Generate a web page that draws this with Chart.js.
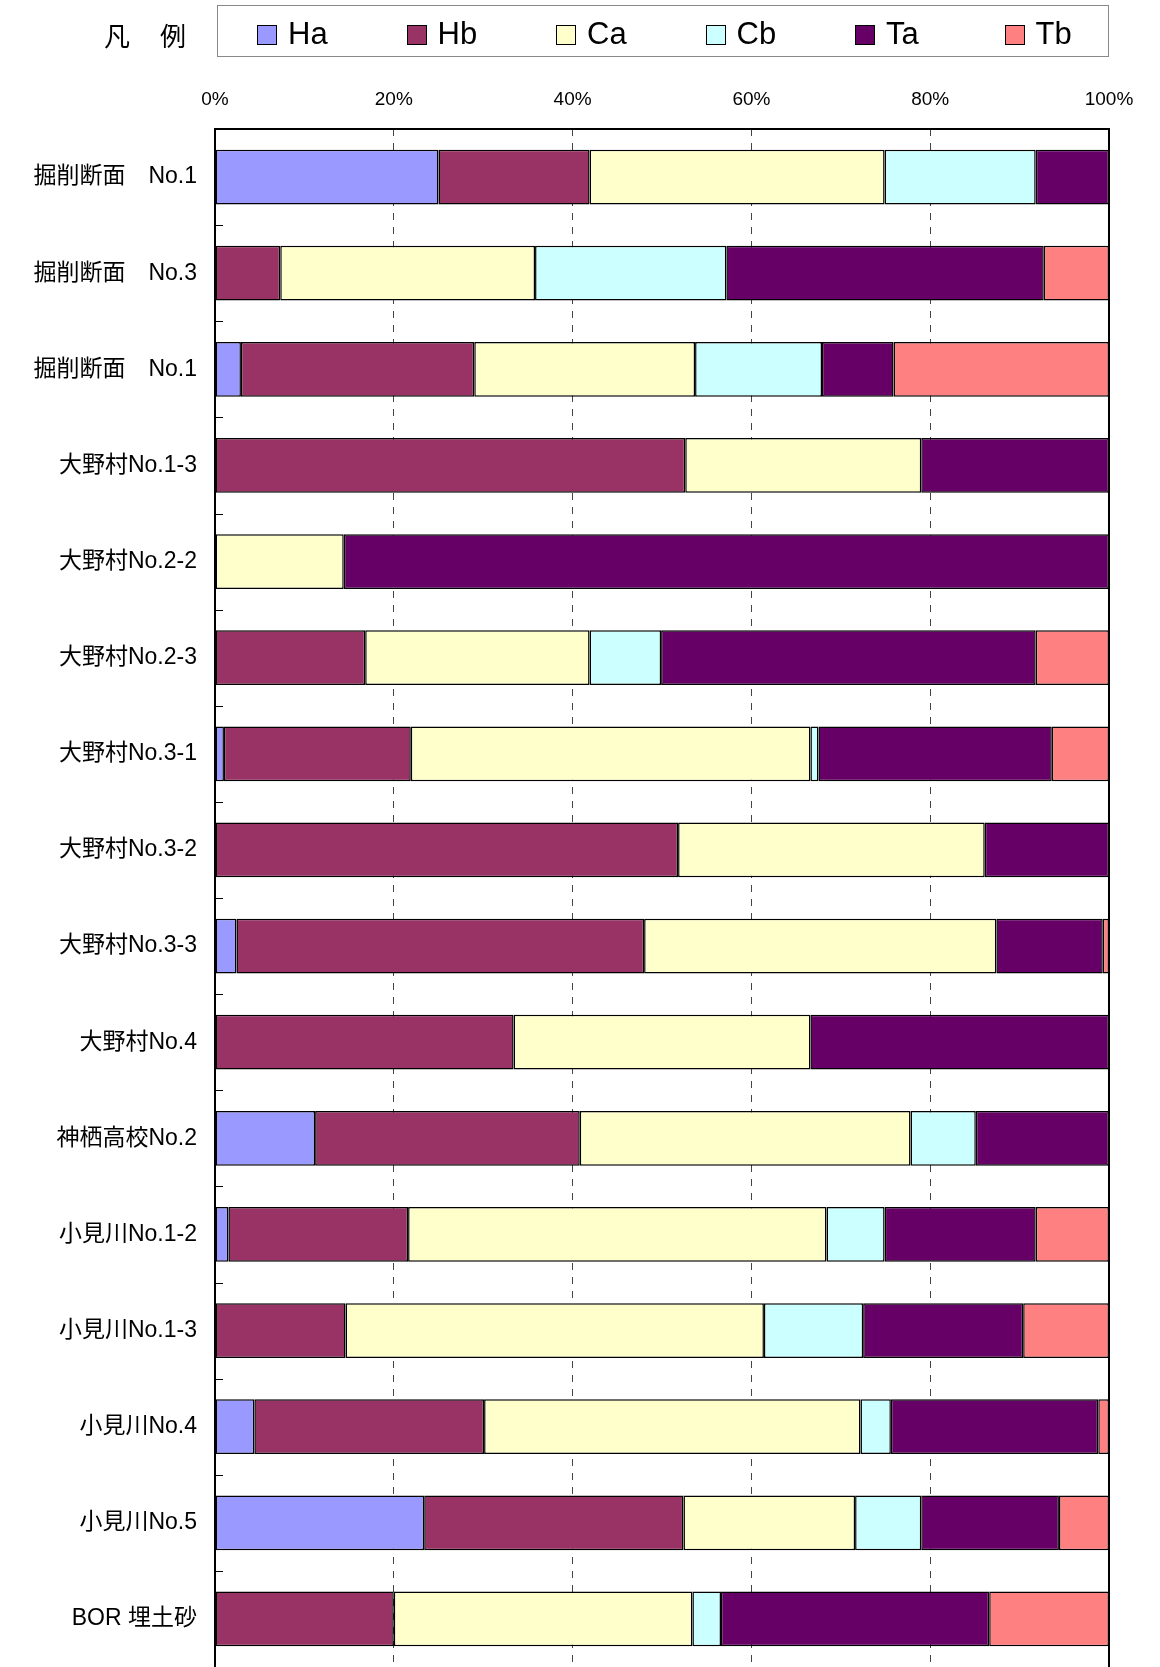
<!DOCTYPE html>
<html>
<head>
<meta charset="utf-8">
<script src="https://cdn.jsdelivr.net/npm/chart.js@4"></script>
<style>
  body { margin: 0; background: #fff; }
  #wrap { position: relative; width: 1160px; height: 1667px; }
  #legendTitle {
    position: absolute; left: 104px; top: 16px;
    font: 26px "Noto Sans CJK JP", sans-serif; letter-spacing: 30px; color: #000;
  }
  #legendBox {
    position: absolute; left: 217px; top: 5px; width: 892px; height: 52px;
    border: 1px solid #888; box-sizing: border-box;
  }
  .item {
    position: absolute; top: 10px; height: 38px; line-height: 38px;
    font: 31px "Liberation Sans", sans-serif; color: #000;
  }
  .item span.sw {
    display: inline-block; width: 20px; height: 20px; border: 1.5px solid #000;
    box-sizing: border-box; margin-right: 11px; vertical-align: -1px;
  }
</style>
</head>
<body>
<div id="wrap">
  <canvas id="chart" width="1160" height="1667"></canvas>
  <div id="legendTitle">凡例</div>
  <div id="legendBox"></div>
</div>
<script>
const categories = [
  "掘削断面　No.1", "掘削断面　No.3", "掘削断面　No.1", "大野村No.1-3",
  "大野村No.2-2", "大野村No.2-3", "大野村No.3-1", "大野村No.3-2",
  "大野村No.3-3", "大野村No.4", "神栖高校No.2", "小見川No.1-2",
  "小見川No.1-3", "小見川No.4", "小見川No.5", "BOR 埋土砂"
];
const seriesNames = ["Ha", "Hb", "Ca", "Cb", "Ta", "Tb"];
const seriesColors = ["#9999FF", "#993366", "#FFFFCC", "#CCFFFF", "#660066", "#FF8080"];

const ha = [25.0, 0, 2.9, 0, 0, 0, 1.0, 0, 2.4, 0, 11.2, 1.5, 0, 4.4, 23.4, 0];
const hb = [16.9, 7.3, 26.1, 52.6, 0, 16.8, 20.9, 51.8, 45.6, 33.4, 29.6, 20.1, 14.6, 25.7, 29.0, 20.0];
const ca = [33.0, 28.5, 24.7, 26.4, 14.4, 25.1, 44.7, 34.3, 39.4, 33.2, 37.0, 46.8, 46.8, 42.1, 19.2, 33.4];
const cb = [16.9, 21.4, 14.2, 0, 0, 8.0, 0.9, 0, 0, 0, 7.3, 6.5, 11.1, 3.4, 7.4, 3.2];
const ta = [8.2, 35.5, 8.0, 21.0, 85.6, 41.9, 26.1, 13.9, 11.9, 33.4, 14.9, 16.9, 17.9, 23.2, 15.4, 30.0];
const tb = [0, 7.3, 24.1, 0, 0, 8.2, 6.4, 0, 0.7, 0, 0, 8.2, 9.6, 1.2, 5.6, 13.4];
const seriesValues = [ha, hb, ca, cb, ta, tb];

const xTicks = [0, 20, 40, 60, 80, 100];

// legend (html)
const box = document.getElementById("legendBox");
seriesNames.forEach((name, i) => {
  const d = document.createElement("div");
  d.className = "item";
  d.style.left = (39 + i * 149.5) + "px";
  d.innerHTML = '<span class="sw" style="background:' + seriesColors[i] + '"></span>' + name;
  box.appendChild(d);
});

// frame + short category ticks drawn inside the plot
const framePlugin = {
  id: "frame",
  afterDatasetsDraw(chart) {
    const { ctx, chartArea: a, scales } = chart;
    const y = scales.y;
    ctx.save();
    ctx.strokeStyle = "#000";
    ctx.lineWidth = 1;
    for (let i = 1; i < categories.length; i++) {
      const py = Math.round(y.getPixelForValue(i - 0.5)) + 0.5;
      ctx.beginPath();
      ctx.moveTo(a.left, py);
      ctx.lineTo(a.left + 8, py);
      ctx.stroke();
    }
    ctx.lineWidth = 2;
    ctx.strokeRect(a.left, a.top, a.right - a.left, a.bottom - a.top + 4);
    ctx.restore();
  }
};

new Chart(document.getElementById("chart"), {
  type: "bar",
  data: {
    labels: categories,
    datasets: seriesNames.map((name, i) => ({
      label: name,
      data: seriesValues[i],
      backgroundColor: seriesColors[i],
      borderColor: "#000",
      borderWidth: 1.5,
      borderSkipped: false,
      categoryPercentage: 1,
      barPercentage: 0.57
    }))
  },
  options: {
    indexAxis: "y",
    responsive: false,
    animation: false,
    layout: { padding: { left: 0, right: 51, top: 0, bottom: 0 } },
    plugins: { legend: { display: false }, tooltip: { enabled: false } },
    scales: {
      x: {
        position: "top",
        stacked: true,
        min: 0,
        max: 100,
        afterBuildTicks: s => { s.ticks = xTicks.map(v => ({ value: v })); },
        afterFit: s => { s.height = 129; },
        grid: { color: "#444", lineWidth: 1, drawTicks: false },
        border: { display: false, dash: [7, 7] },
        ticks: {
          padding: 18,
          color: "#000",
          maxRotation: 0,
          font: { family: "'Liberation Sans Narrow', 'Liberation Sans', sans-serif", size: 19 },
          callback: v => v + "%"
        }
      },
      y: {
        stacked: true,
        afterFit: s => { s.width = 215; s.paddingTop = 0; s.paddingBottom = 0; },
        grid: { display: false },
        border: { display: false },
        ticks: {
          padding: 10,
          color: "#000",
          font: { family: "'Liberation Sans', 'Noto Sans CJK JP', sans-serif", size: 23 }
        }
      }
    }
  },
  plugins: [framePlugin]
});
</script>
</body>
</html>
